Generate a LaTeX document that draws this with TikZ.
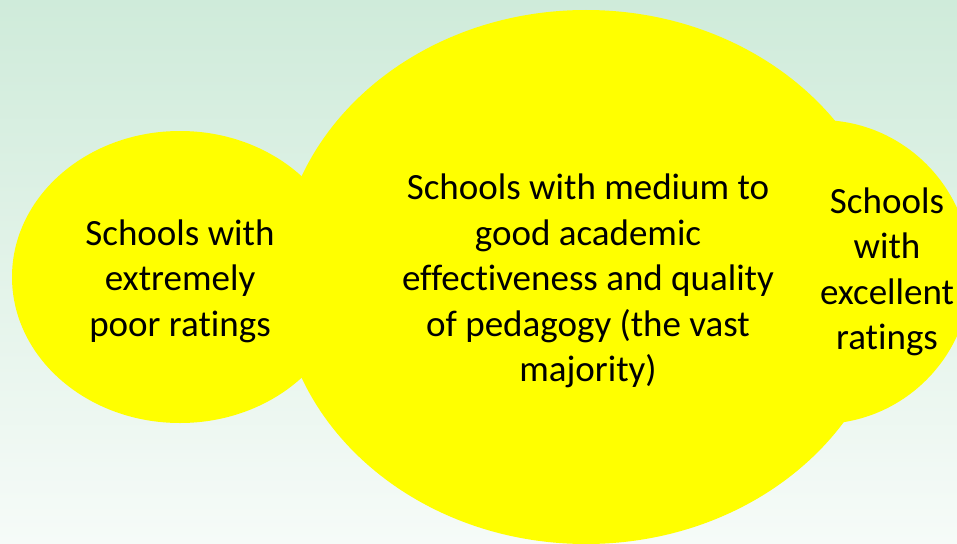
\documentclass[tikz,border=0pt]{standalone}
\usepackage{fontspec}
\setmainfont{Carlito}[Ligatures=NoCommon]
\usetikzlibrary{shapes.geometric}
\definecolor{bgtop}{RGB}{207,235,218}
\definecolor{bgbot}{RGB}{246,251,248}
\definecolor{blobyellow}{RGB}{255,255,0}
\tikzset{
  blob/.style={ellipse, fill=blobyellow, draw=none, inner sep=0pt},
  blobtext/.style={align=center, inner sep=0pt, font=\fontsize{37}{45.5}\selectfont}
}
\begin{document}
\begin{tikzpicture}[x=1pt, y=-1pt]
      \useasboundingbox (0,0) rectangle (957,543);
      \shade[top color=bgtop, bottom color=bgbot] (0,0) rectangle (957,543);
      \begin{scope}
        \clip (0,0) rectangle (957,543);
        \node[blob, minimum width=336pt, minimum height=292pt] (poor) at (180,277) {};
        \node[blob, minimum width=302pt, minimum height=304pt] (excellent) at (820,272) {};
        \node[blob, minimum width=614pt, minimum height=534pt] (medium) at (586,277) {};
        \node[blobtext] (poortext) at (180,281)
          {Schools with\\extremely\\poor ratings};
        \node[blobtext] (mediumtext) at (588,281)
          {Schools with medium to\\good academic\\effectiveness and quality\\of pedagogy (the vast\\majority)};
        \node[blobtext] (excellenttext) at (887,272)
          {Schools\\with\\excellent\\ratings};
      \end{scope}
    \end{tikzpicture}
\end{document}
